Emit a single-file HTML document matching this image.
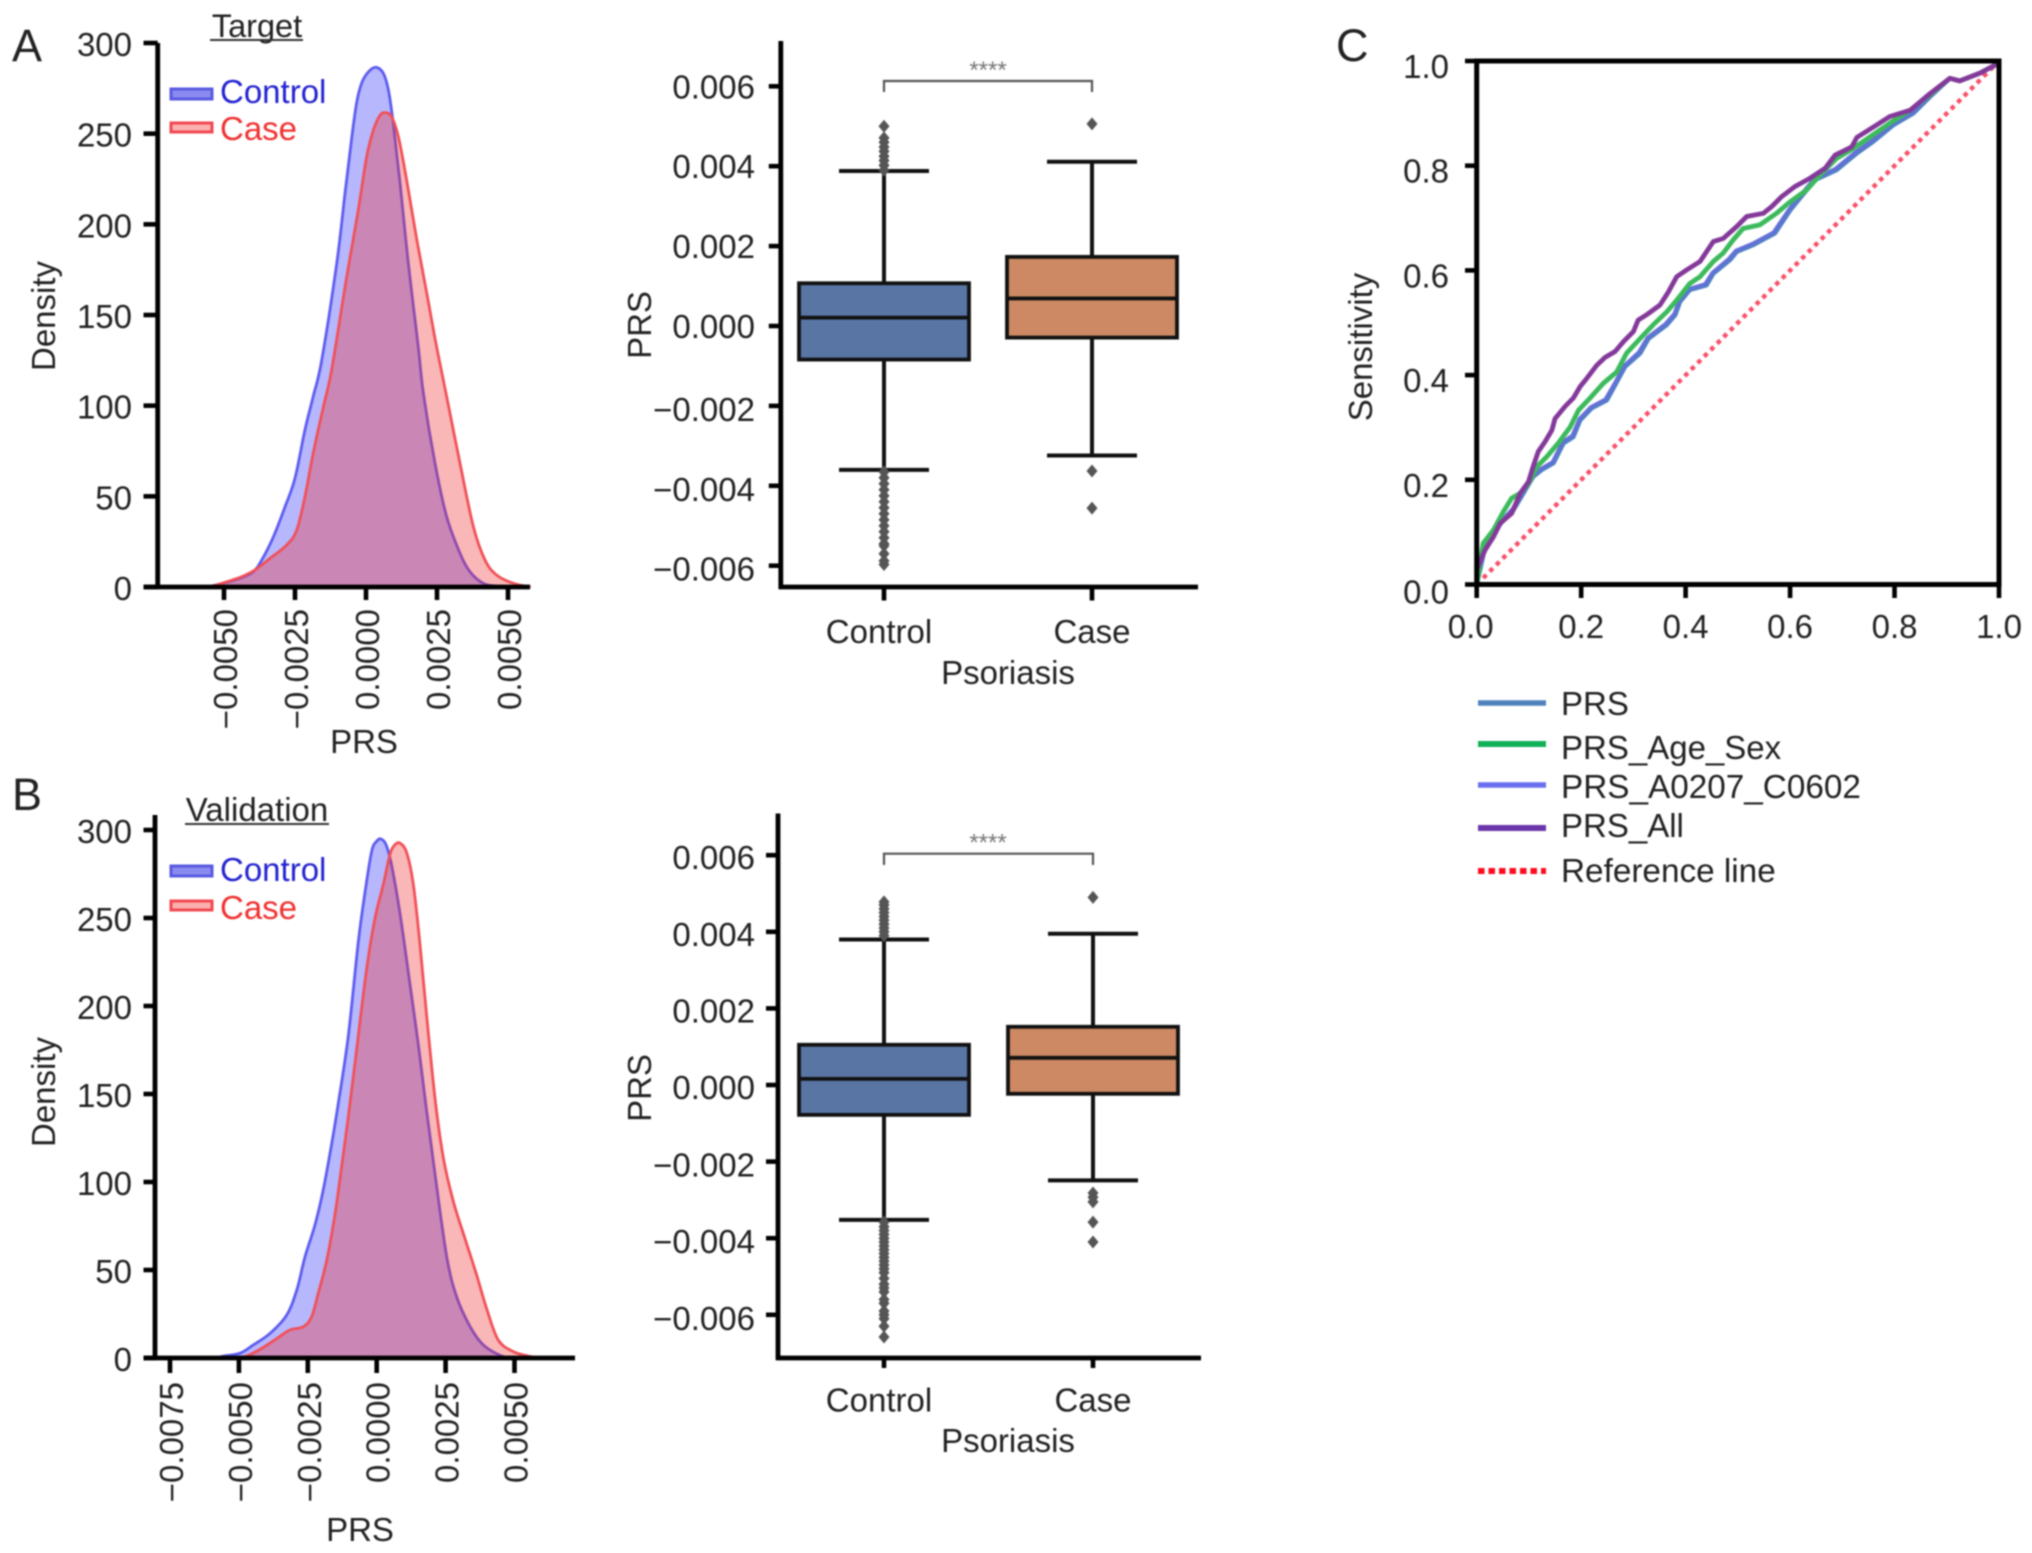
<!DOCTYPE html>
<html lang="en">
<head>
<meta charset="utf-8">
<title>PRS density, box plots and ROC curves</title>
<style>
html,body{margin:0;padding:0;background:#fff}
svg{display:block;filter:blur(.7px)}
text{font-family:"Liberation Sans",Arial,sans-serif;fill:#222;font-size:33px}
</style>
</head>
<body>
<svg id="fig" xmlns="http://www.w3.org/2000/svg" width="2032" height="1553" viewBox="0 0 2032 1553">
<rect x="0" y="0" width="2032" height="1553" fill="#fff"/>
<g id="kdeA"></g>
<g id="boxA"></g>
<g id="kdeB"></g>
<g id="boxB"></g>
<g id="roc"></g>

<text x="12" y="61" style="font-size:45px">A</text>
<text x="12" y="810" style="font-size:45px">B</text>
<text x="1336" y="61" style="font-size:45px">C</text>

<text x="257" y="37" text-anchor="middle" style="font-size:32.5px">Target</text>
<line x1="210" x2="303" y1="40" y2="40" stroke="#333" stroke-width="2"/>
<text x="257" y="821" text-anchor="middle" style="font-size:33px">Validation</text>
<line x1="185" x2="329" y1="824" y2="824" stroke="#333" stroke-width="2"/>

<text transform="translate(55,316) rotate(-90)" text-anchor="middle">Density</text>
<text x="364" y="753" text-anchor="middle">PRS</text>
<text transform="translate(55,1092) rotate(-90)" text-anchor="middle">Density</text>
<text x="360" y="1541" text-anchor="middle">PRS</text>

<text transform="translate(651,325) rotate(-90)" text-anchor="middle">PRS</text>
<text x="1008" y="684" text-anchor="middle">Psoriasis</text>
<text transform="translate(651,1088) rotate(-90)" text-anchor="middle">PRS</text>
<text x="1008" y="1452" text-anchor="middle">Psoriasis</text>

<text transform="translate(1372,347) rotate(-90)" text-anchor="middle">Sensitivity</text>

<g>
<rect x="171" y="89" width="41" height="10" fill="#8a8af0" stroke="#5a5ae0" stroke-width="3"/>
<text x="220" y="103" style="fill:#2222d0">Control</text>
<rect x="171" y="123" width="41" height="9" fill="#fbb0b0" stroke="#f04850" stroke-width="3"/>
<text x="220" y="140" style="fill:#f03030">Case</text>
</g>
<g>
<rect x="171" y="866" width="41" height="10" fill="#8a8af0" stroke="#5a5ae0" stroke-width="3"/>
<text x="220" y="881" style="fill:#2222d0">Control</text>
<rect x="171" y="901" width="41" height="9" fill="#fbb0b0" stroke="#f04850" stroke-width="3"/>
<text x="220" y="919" style="fill:#f03030">Case</text>
</g>

<g>
<line x1="1478" x2="1546" y1="703" y2="703" stroke="#4f81bd" stroke-width="5.5"/>
<text x="1561" y="715">PRS</text>
<line x1="1478" x2="1546" y1="744" y2="744" stroke="#10b058" stroke-width="6"/>
<text x="1561" y="759">PRS_Age_Sex</text>
<line x1="1478" x2="1546" y1="785" y2="785" stroke="#6a6ff0" stroke-width="5.5"/>
<text x="1561" y="798" style="font-size:33.3px">PRS_A0207_C0602</text>
<line x1="1478" x2="1546" y1="828" y2="828" stroke="#6a35a8" stroke-width="6"/>
<text x="1561" y="837">PRS_All</text>
<line x1="1478" x2="1546" y1="871" y2="871" stroke="#ff0a1e" stroke-width="6" stroke-dasharray="6.5 4"/>
<text x="1561" y="882" style="font-size:33.3px">Reference line</text>
</g>
</svg>

<script>
// ---------- Panel A density ----------
const targetControlX = [-0.0056,-0.00504,-0.00444,-0.00397,-0.00367,-0.00326,-0.00285,-0.0025,-0.00215,-0.00186,-0.00156,-0.00103,-0.00074,-0.0005,-0.00033,-0.00015,0.00008,0.00035,0.00061,0.00079,0.00096,0.0012,0.00149,0.00184,0.00202,0.00243,0.00284,0.00331,0.00366,0.00413,0.0046,0.00507];
const targetControlDensity = [0,2,4.8,8.4,14.9,27.7,44.3,60,86.6,105,125,178.5,217,248,267,278,284,286.6,283.3,274,255.7,222.6,178.5,132.5,106.8,68.2,38.8,18.6,8.4,2,0.5,0];
const targetCaseX = [-0.0055,-0.00444,-0.00391,-0.00338,-0.00279,-0.00244,-0.00215,-0.00186,-0.0015,-0.00121,-0.00068,-0.00027,0.00002,0.00026,0.00049,0.00067,0.0009,0.00114,0.00143,0.00179,0.00214,0.00246,0.00284,0.00331,0.00378,0.00419,0.0046,0.00519,0.0058];
const targetCaseDensity = [0,5.3,9.4,15.8,23.2,31.4,49.8,73.7,99.4,119.7,171,208,237,252,260,261.6,259.4,248.3,224.5,191.4,162,134.6,105,68.2,33.3,14.9,6.6,2,0];
const targetDensityXTicks = [-0.005,-0.0025,0,0.0025,0.005];
const targetDensityXLabels = ['\u22120.0050','\u22120.0025','0.0000','0.0025','0.0050'];

// ---------- Panel B density ----------
const validationControlX = [-0.0058,-0.00557,-0.00496,-0.00448,-0.00387,-0.00327,-0.0029,-0.0026,-0.00224,-0.00194,-0.00163,-0.0014,-0.00103,-0.00067,-0.00042,-0.00018,0,0.00015,0.00034,0.00054,0.00085,0.00121,0.00151,0.00179,0.00212,0.00254,0.0029,0.00339,0.00387,0.00454,0.005];
const validationControlDensity = [0,1.1,2.7,7.4,14,24.3,38.6,57.6,75.6,95.5,122,144,183,236,265,288,293.6,294.9,291.6,280,252,212,178,143,104,57.6,34.8,17.8,7.4,1.1,0];
const validationCaseX = [-0.0052,-0.00472,-0.00417,-0.00363,-0.00315,-0.00266,-0.00236,-0.00212,-0.00181,-0.00151,-0.00127,-0.00103,-0.00073,-0.00036,-0.00006,0.00024,0.00048,0.00066,0.00085,0.00109,0.00133,0.00157,0.00181,0.00212,0.00242,0.00278,0.0032,0.00363,0.00399,0.00441,0.00496,0.0055,0.00593];
const validationCaseDensity = [0,1.1,5.5,11,15.9,17.8,23.5,36.8,55.7,82,109,137,175,221.6,250,269,286,291.6,292.5,287,269,235,195,147,113.6,89,68,47,28,10.2,3.6,1.1,0];
const validationDensityXTicks = [-0.0075,-0.005,-0.0025,0,0.0025,0.005];
const validationDensityXLabels = ['\u22120.0075','\u22120.0050','\u22120.0025','0.0000','0.0025','0.0050'];

const densityYTicks = [0,50,100,150,200,250,300];
const densityYLabels = ['0','50','100','150','200','250','300'];

// ---------- Box plots ----------
const boxCategories = ['Control','Case'];
const boxYTicks = [-0.006,-0.004,-0.002,0,0.002,0.004,0.006];
const boxYLabels = ['\u22120.006','\u22120.004','\u22120.002','0.000','0.002','0.004','0.006'];

const targetQ1 = [-0.00084,-0.00029];
const targetMedian = [0.00021,0.00069];
const targetQ3 = [0.00107,0.00173];
const targetWhiskerLow = [-0.0036,-0.00324];
const targetWhiskerHigh = [0.00388,0.00411];
const targetControlFliers = [0.0050,0.00471,0.0046,0.00448,0.00437,0.00425,0.00414,0.00402,0.0039,-0.00365,-0.0038,-0.00395,-0.0041,-0.00425,-0.0044,-0.00455,-0.0047,-0.00485,-0.005,-0.00515,-0.0053,-0.00545,-0.0055,-0.0057,-0.00588,-0.00597];
const targetCaseFliers = [0.00506,-0.00363,-0.00456];

const validationQ1 = [-0.00078,-0.00023];
const validationMedian = [0.00016,0.00071];
const validationQ3 = [0.00105,0.00152];
const validationWhiskerLow = [-0.00352,-0.00249];
const validationWhiskerHigh = [0.0038,0.00395];
const validationControlFliers = [0.00478,0.0047,0.0046,0.0045,0.0044,0.0043,0.0042,0.0041,0.004,0.0039,-0.00358,-0.0037,-0.0038,-0.0039,-0.004,-0.0041,-0.0042,-0.0043,-0.0044,-0.0045,-0.0046,-0.0047,-0.0048,-0.0049,-0.00505,-0.0052,-0.0053,-0.0054,-0.0056,-0.0057,-0.0059,-0.006,-0.0061,-0.0063,-0.00658];
const validationCaseFliers = [0.0049,-0.00282,-0.00293,-0.00305,-0.00358,-0.0041];

// ---------- ROC ----------
const rocTicks = [0,0.2,0.4,0.6,0.8,1];
const rocTickLabels = ['0.0','0.2','0.4','0.6','0.8','1.0'];
const prsFpr = [0,0.016,0.032,0.051,0.07,0.089,0.108,0.124,0.147,0.166,0.185,0.198,0.22,0.249,0.265,0.284,0.313,0.329,0.364,0.38,0.389,0.408,0.44,0.453,0.485,0.498,0.53,0.571,0.6,0.632,0.648,0.689,0.728,0.759,0.798,0.836,0.868,0.906,0.925,0.964,0.992,1];
const prsTpr = [0,0.072,0.098,0.123,0.142,0.174,0.206,0.219,0.232,0.27,0.282,0.314,0.337,0.352,0.381,0.416,0.442,0.47,0.496,0.515,0.54,0.563,0.572,0.594,0.62,0.636,0.649,0.671,0.715,0.754,0.773,0.792,0.824,0.846,0.878,0.9,0.932,0.967,0.962,0.977,0.992,1];
const a0207Fpr = [0,0.015,0.03,0.05,0.068,0.088,0.106,0.122,0.145,0.164,0.183,0.196,0.218,0.246,0.263,0.282,0.31,0.327,0.361,0.378,0.387,0.406,0.437,0.451,0.482,0.496,0.527,0.568,0.598,0.63,0.646,0.686,0.725,0.756,0.795,0.834,0.866,0.905,0.925,0.964,0.992,1];
const a0207Tpr = [0,0.074,0.1,0.125,0.144,0.176,0.208,0.221,0.234,0.272,0.285,0.316,0.339,0.354,0.383,0.418,0.444,0.472,0.498,0.517,0.542,0.565,0.574,0.596,0.622,0.638,0.651,0.673,0.717,0.756,0.775,0.794,0.826,0.848,0.88,0.902,0.934,0.968,0.962,0.977,0.992,1];
const ageSexFpr = [0,0.0127,0.032,0.051,0.067,0.083,0.099,0.115,0.134,0.156,0.179,0.195,0.217,0.242,0.268,0.287,0.313,0.338,0.364,0.383,0.408,0.4275,0.453,0.472,0.491,0.51,0.542,0.574,0.6,0.632,0.657,0.689,0.721,0.753,0.795,0.83,0.868,0.906,0.925,0.964,0.992,1];
const ageSexTpr = [0,0.079,0.104,0.139,0.165,0.174,0.193,0.225,0.244,0.27,0.301,0.333,0.356,0.384,0.406,0.442,0.47,0.496,0.521,0.543,0.575,0.588,0.617,0.633,0.658,0.68,0.687,0.709,0.731,0.754,0.782,0.814,0.833,0.855,0.884,0.906,0.936,0.967,0.962,0.977,0.992,1];
const allFpr = [0,0.016,0.032,0.045,0.067,0.083,0.099,0.108,0.118,0.131,0.144,0.15,0.169,0.185,0.198,0.211,0.23,0.246,0.265,0.281,0.3,0.309,0.325,0.351,0.367,0.383,0.402,0.4275,0.453,0.472,0.498,0.517,0.549,0.565,0.584,0.609,0.638,0.667,0.686,0.718,0.728,0.766,0.791,0.83,0.868,0.906,0.925,0.964,0.992,1];
const allTpr = [0.028,0.066,0.091,0.117,0.136,0.174,0.196,0.225,0.254,0.273,0.295,0.317,0.34,0.356,0.378,0.394,0.419,0.434,0.445,0.464,0.483,0.505,0.515,0.534,0.559,0.588,0.601,0.617,0.655,0.661,0.684,0.703,0.709,0.722,0.741,0.76,0.776,0.795,0.82,0.836,0.854,0.878,0.894,0.906,0.938,0.967,0.962,0.977,0.992,1];
const referenceFpr = [0,1];
const referenceTpr = [0,1];

// ---------- Helpers ----------
const NS = 'http://www.w3.org/2000/svg';
function linear(d0,d1,r0,r1){ return v => r0 + (v-d0)*(r1-r0)/(d1-d0); }
function mk(parent, tag, attrs, name){
  const el = document.createElementNS(NS, tag);
  Object.keys(attrs).forEach(k => el.setAttribute(k, attrs[k]));
  
  
  parent.appendChild(el);
  return el;
}
function line(p,x1,y1,x2,y2,w,color,name){
  return mk(p,'line',{x1,y1,x2,y2,stroke:color,'stroke-width':w},name);
}
function label(p,x,y,str,attrs,name){
  const t = mk(p,'text',Object.assign({x,y},attrs||{}),name);
  t.textContent = str;
  return t;
}
function smoothPath(pts){
  let d = 'M'+pts[0][0].toFixed(2)+' '+pts[0][1].toFixed(2);
  for(let i=0;i<pts.length-1;i++){
    const p0=pts[Math.max(i-1,0)],p1=pts[i],p2=pts[i+1],p3=pts[Math.min(i+2,pts.length-1)];
    const c1x=p1[0]+(p2[0]-p0[0])/6,c1y=p1[1]+(p2[1]-p0[1])/6;
    const c2x=p2[0]-(p3[0]-p1[0])/6,c2y=p2[1]-(p3[1]-p1[1])/6;
    d+=' C'+c1x.toFixed(2)+' '+c1y.toFixed(2)+' '+c2x.toFixed(2)+' '+c2y.toFixed(2)+' '+p2[0].toFixed(2)+' '+p2[1].toFixed(2);
  }
  return d;
}
const AXIS = '#000';

function drawKde(cfg){
  const g = document.getElementById(cfg.id);
  const sx = cfg.sx, sy = cfg.sy, y0 = sy(0);
  [[cfg.cx,cfg.cy,'#3232fa','#5c5cf0','control',0.35],[cfg.kx,cfg.ky,'#f02d2d','#f05058','case',0.34]].forEach(s => {
    const pts = s[0].map((v,i) => [sx(v), Math.min(sy(s[1][i]),y0)]);
    const d = smoothPath(pts);
    mk(g,'path',{d:d+' L'+pts[pts.length-1][0].toFixed(2)+' '+y0+' L'+pts[0][0].toFixed(2)+' '+y0+' Z',fill:s[2],'fill-opacity':s[5],stroke:'none'},'density-area-'+s[4]);
    mk(g,'path',{d,fill:'none',stroke:s[3],'stroke-width':2.8},'density-curve-'+s[4]);
  });
  line(g,cfg.axisX,cfg.top,cfg.axisX,y0+2,4.8,AXIS,'density-y-axis');
  line(g,143.5,y0,cfg.right,y0,4.8,AXIS,'density-x-axis');
  densityYTicks.forEach((v,i) => {
    line(g,143.5,sy(v),cfg.axisX,sy(v),4.6,AXIS,'density-y-tick');
    label(g,132,sy(v)+13,densityYLabels[i],{'text-anchor':'end'},'density-y-tick-label');
  });
  cfg.xTicks.forEach((v,i) => {
    line(g,sx(v),y0,sx(v),cfg.tickBottom,4.6,AXIS,'density-x-tick');
    label(g,0,0,cfg.xLabels[i],{'text-anchor':'end',transform:'translate('+(sx(v)+13).toFixed(1)+','+cfg.labelTop+') rotate(-90)'},'density-x-tick-label');
  });
}

function drawBox(cfg){
  const g = document.getElementById(cfg.id);
  const sy = cfg.sy, cx = cfg.cx;
  const colors = ['#5975a4','#cc8963'];
  const fliers = [cfg.f0,cfg.f1];
  boxCategories.forEach((cat,i) => {
    const x = cx(i), hw = 85;
    line(g,x,sy(cfg.hi[i]),x,sy(cfg.q3[i]),4,'#111','box-upper-whisker');
    line(g,x,sy(cfg.lo[i]),x,sy(cfg.q1[i]),4,'#111','box-lower-whisker');
    line(g,x-45,sy(cfg.hi[i]),x+45,sy(cfg.hi[i]),4,'#111','box-upper-cap');
    line(g,x-45,sy(cfg.lo[i]),x+45,sy(cfg.lo[i]),4,'#111','box-lower-cap');
    fliers[i].forEach(v => {
      const y = sy(v);
      mk(g,'polygon',{points:(x-5.5)+','+y+' '+x+','+(y-6.5)+' '+(x+5.5)+','+y+' '+x+','+(y+6.5),fill:'#555'},'box-outlier');
    });
    mk(g,'rect',{x:x-hw,y:sy(cfg.q3[i]),width:hw*2,height:sy(cfg.q1[i])-sy(cfg.q3[i]),fill:colors[i],stroke:'#111','stroke-width':3.8},'box-'+cat.toLowerCase());
    line(g,x-hw,sy(cfg.med[i]),x+hw,sy(cfg.med[i]),3.8,'#111','box-median-'+cat.toLowerCase());
    line(g,x,cfg.bottom,x,cfg.tickBottom,4.6,AXIS,'box-x-tick');
    label(g,i===0?x-5:x,cfg.catY,cat,{'text-anchor':'middle'},'box-x-tick-label');
  });
  line(g,cfg.axisX,cfg.top,cfg.axisX,cfg.bottom+2,4.8,AXIS,'box-y-axis');
  line(g,cfg.axisX-2,cfg.bottom,cfg.right,cfg.bottom,4.8,AXIS,'box-x-axis');
  boxYTicks.forEach((v,i) => {
    line(g,cfg.axisX-12,sy(v),cfg.axisX,sy(v),4.6,AXIS,'box-y-tick');
    label(g,755,sy(v)+12+cfg.lblDy+(v<0?cfg.negDy:0),boxYLabels[i],{'text-anchor':'end'},'box-y-tick-label');
  });
  mk(g,'path',{d:'M'+cx(0)+' '+cfg.brLeg+' V'+cfg.brY+' H'+cx(1)+' V'+cfg.brLeg,fill:'none',stroke:'#555','stroke-width':2.2},'significance-bracket');
  label(g,988,cfg.brY-3,'****',{'text-anchor':'middle',style:'font-size:24px;fill:#777'},'significance-stars');
}

function drawRoc(){
  const g = document.getElementById('roc');
  const sx = linear(0,1,1476.7,1999), sy = linear(0,1,584.5,61);
  const poly = (xs,ys) => xs.map((v,i) => sx(v).toFixed(1)+','+sy(ys[i]).toFixed(1)).join(' ');
  mk(g,'polyline',{points:poly(referenceFpr,referenceTpr),fill:'none',stroke:'#f8506a','stroke-width':4.4,'stroke-dasharray':'4.5 4.7'},'roc-reference-line');
  mk(g,'polyline',{points:poly(prsFpr,prsTpr),fill:'none',stroke:'#4f7fc4','stroke-width':4.6,'stroke-linejoin':'round'},'roc-curve-prs');
  mk(g,'polyline',{points:poly(a0207Fpr,a0207Tpr),fill:'none',stroke:'#6470d8','stroke-width':3.4,'stroke-linejoin':'round'},'roc-curve-a0207-c0602');
  mk(g,'polyline',{points:poly(ageSexFpr,ageSexTpr),fill:'none',stroke:'#3cba5c','stroke-width':4.8,'stroke-linejoin':'round'},'roc-curve-age-sex');
  mk(g,'polyline',{points:poly(allFpr,allTpr),fill:'none',stroke:'#84399a','stroke-width':4.8,'stroke-linejoin':'round'},'roc-curve-all');
  mk(g,'rect',{x:sx(0),y:sy(1),width:sx(1)-sx(0),height:sy(0)-sy(1),fill:'none',stroke:AXIS,'stroke-width':5},'roc-plot-frame');
  rocTicks.forEach((v,i) => {
    line(g,sx(v),sy(0),sx(v),598,4.6,AXIS,'roc-x-tick');
    line(g,1465,sy(v),sx(0),sy(v),4.6,AXIS,'roc-y-tick');
    label(g,sx(v)+(i===0?-6:0),638,rocTickLabels[i],{'text-anchor':'middle'},'roc-x-tick-label');
    label(g,1449,sy(v)+(i===0?19:17),rocTickLabels[i],{'text-anchor':'end'},'roc-y-tick-label');
  });
}

drawKde({id:'kdeA',sx:linear(0,0.0025,366,437),sy:linear(0,300,587,43),cx:targetControlX,cy:targetControlDensity,kx:targetCaseX,ky:targetCaseDensity,axisX:157.7,top:43,right:530,tickBottom:600,labelTop:609,xTicks:targetDensityXTicks,xLabels:targetDensityXLabels});
drawKde({id:'kdeB',sx:linear(0,0.0025,376.7,445.6),sy:linear(0,300,1358,830),cx:validationControlX,cy:validationControlDensity,kx:validationCaseX,ky:validationCaseDensity,axisX:155,top:815,right:575,tickBottom:1373,labelTop:1382,xTicks:validationDensityXTicks,xLabels:validationDensityXLabels});
drawBox({id:'boxA',sy:linear(0,0.002,326,246.1),cx:linear(0,1,884,1092),q1:targetQ1,med:targetMedian,q3:targetQ3,lo:targetWhiskerLow,hi:targetWhiskerHigh,f0:targetControlFliers,f1:targetCaseFliers,axisX:780.8,top:41,bottom:587,right:1198,tickBottom:600.5,catY:643,lblDy:0,negDy:3,brY:81,brLeg:92});
drawBox({id:'boxB',sy:linear(0,0.002,1085,1008.4),cx:linear(0,1,884,1093),q1:validationQ1,med:validationMedian,q3:validationQ3,lo:validationWhiskerLow,hi:validationWhiskerHigh,f0:validationControlFliers,f1:validationCaseFliers,axisX:778,top:813.5,bottom:1358,right:1201,tickBottom:1368,catY:1411.5,lblDy:2,negDy:1,brY:853.7,brLeg:865});
drawRoc();
</script>
</body>
</html>
